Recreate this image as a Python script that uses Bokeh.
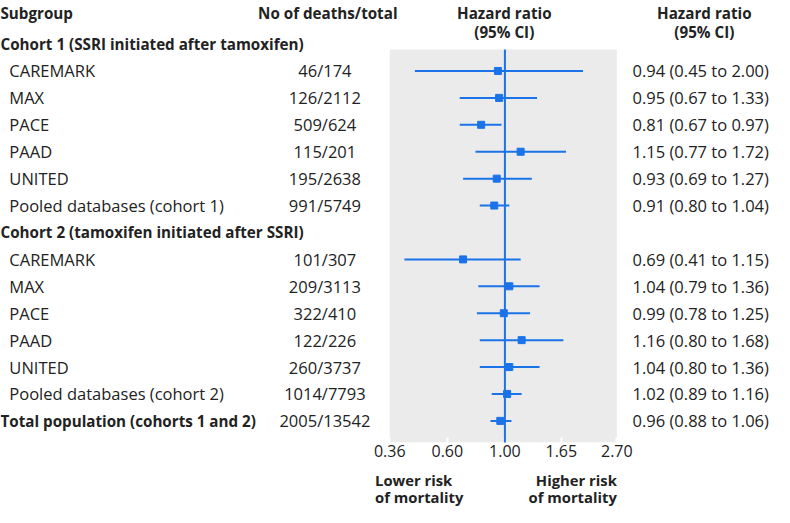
import math
from bokeh.plotting import figure
from bokeh.layouts import column
from bokeh.models import Range1d, LinearScale, FixedTicker, BoxAnnotation, PrintfTickFormatter
from bokeh.core.properties import value
from bokeh.embed import file_html
from bokeh.resources import INLINE

# ---------------- data ----------------
row_labels = [
    "Cohort 1 (SSRI initiated after tamoxifen)",
    "CAREMARK", "MAX", "PACE", "PAAD", "UNITED", "Pooled databases (cohort 1)",
    "Cohort 2 (tamoxifen initiated after SSRI)",
    "CAREMARK", "MAX", "PACE", "PAAD", "UNITED", "Pooled databases (cohort 2)",
    "Total population (cohorts 1 and 2)",
]
bold_rows = [0, 7, 14]
data_rows = [1, 2, 3, 4, 5, 6, 8, 9, 10, 11, 12, 13, 14]
deaths = [46, 126, 509, 115, 195, 991, 101, 209, 322, 122, 260, 1014, 2005]
totals = [174, 2112, 624, 201, 2638, 5749, 307, 3113, 410, 226, 3737, 7793, 13542]
hr = [0.94, 0.95, 0.81, 1.15, 0.93, 0.91, 0.69, 1.04, 0.99, 1.16, 1.04, 1.02, 0.96]
ci_lo = [0.45, 0.67, 0.67, 0.77, 0.69, 0.80, 0.41, 0.79, 0.78, 0.80, 0.80, 0.89, 0.88]
ci_hi = [2.00, 1.33, 0.97, 1.72, 1.27, 1.04, 1.15, 1.36, 1.25, 1.68, 1.36, 1.16, 1.06]
tick_values = [0.36, 0.60, 1.00, 1.65, 2.70]
headers = ["Subgroup", "No of deaths/total", "Hazard ratio", "(95% CI)"]
direction_labels = [("Lower risk", "of mortality"), ("Higher risk", "of mortality")]

# ---------------- layout constants ----------------
W, H = 774, 507
TOP_REF = 0.0
SX, SY = 0.983, 507.0 / 518.0
FONT = "Open Sans"
BLUE = "#1a73e8"
GRAY = "#ebebeb"
TXT = "#222222"
FS = "16.5px"
FSB = "15.2px"

PX0 = 1.0
PX1 = PX0 + W / SX
PANEL_L, PANEL_R = 397.0, 628.0
k = (PANEL_R - PANEL_L) / math.log(tick_values[-1] / tick_values[0])
log_lo = tick_values[0] * math.exp(-(PANEL_L - PX0) / k)
log_hi = tick_values[-1] * math.exp((PX1 - PANEL_R) / k)

ROW0, ROWH = 44.5, 27.5
def row_of(y):
    return (y - ROW0) / ROWH

PANEL_BOTTOM_REF = 452.0
frame_h = round((PANEL_BOTTOM_REF - TOP_REF) * SY)
axis_h = 24
H1 = frame_h + axis_h
H2 = H - H1
y_bottom = row_of(TOP_REF + frame_h / SY)
y_top = row_of(TOP_REF)
panel_top = row_of(50.0)

p = figure(width=W, height=H1, x_axis_type="log",
           x_range=Range1d(log_lo, log_hi), y_range=Range1d(y_bottom, y_top),
           y_axis_location=None, toolbar_location=None, output_backend="svg",
           min_border_left=0, min_border_right=0, min_border_top=0, min_border_bottom=axis_h)
p.extra_x_ranges = {"px": Range1d(PX0, PX1)}
p.extra_x_scales = {"px": LinearScale()}
p.outline_line_color = None
p.xgrid.visible = False
p.ygrid.visible = False
p.background_fill_color = "white"
p.border_fill_color = "white"

# gray panel
p.add_layout(BoxAnnotation(left=tick_values[0], right=tick_values[-1], top=panel_top,
                           fill_color=GRAY, fill_alpha=1.0, line_color=None, level="underlay"))

# CI lines and markers
p.segment(x0=ci_lo, y0=data_rows, x1=ci_hi, y1=data_rows, line_color=BLUE, line_width=2)
p.scatter(x=hr, y=data_rows, marker="square", size=7, fill_color=BLUE, line_color=BLUE)

# reference line at HR = 1
ref = p.segment(x0=[1.0], y0=[panel_top], x1=[1.0], y1=[y_bottom], line_color=BLUE, line_width=2)
ref.level = "overlay"

# axis
ax = p.xaxis[0]
ax.ticker = FixedTicker(ticks=tick_values, minor_ticks=[])
ax.formatter = PrintfTickFormatter(format="%.2f")
ax.axis_line_color = None
ax.major_tick_in = 5
ax.major_tick_out = 0
ax.major_tick_line_color = "white"
ax.major_tick_line_width = 2
ax.major_label_text_font = FONT
ax.major_label_text_font_size = "16px"
ax.major_label_text_color = TXT
ax.major_label_standoff = 2


def txt(fig, xs, ys, texts, align="left", bold=False, size=FS, rng="px"):
    kw = dict(x=xs, y=ys, text=texts, text_font=value(FONT), text_font_size=size,
              text_baseline="middle", text_align=align, text_color=TXT,
              text_font_style="bold" if bold else "normal")
    if rng:
        kw["x_range_name"] = rng
    fig.text(**kw)

# headers
hdr_y = row_of(13.0)
hdr_y2 = row_of(32.5)
txt(p, [1.0], [hdr_y], [headers[0]], bold=True, size=FSB)
txt(p, [263.0], [hdr_y], [headers[1]], bold=True, size=FSB)
txt(p, [513.5, 513.5], [hdr_y, hdr_y2], [headers[2], headers[3]], align="center", bold=True, size=FSB)
txt(p, [717.0, 717.0], [hdr_y, hdr_y2], [headers[2], headers[3]], align="center", bold=True, size=FSB)

# subgroup labels
txt(p, [1.0] * len(bold_rows), bold_rows, [row_labels[i] for i in bold_rows], bold=True, size=FSB)
norm_rows = [i for i in range(len(row_labels)) if i not in bold_rows]
txt(p, [10.0] * len(norm_rows), norm_rows, [row_labels[i] for i in norm_rows])

# deaths / total
txt(p, [331.0] * len(data_rows), data_rows,
    [f"{d}/{t}" for d, t in zip(deaths, totals)], align="center")

# hazard ratio (95% CI) text
txt(p, [644.0] * len(data_rows), data_rows,
    [f"{h:.2f} ({l:.2f} to {u:.2f})" for h, l, u in zip(hr, ci_lo, ci_hi)])

# ---------------- bottom strip with direction labels ----------------
ref_top2 = TOP_REF + H1 / SY
ref_bot2 = TOP_REF + H / SY
p2 = figure(width=W, height=H2, x_range=Range1d(PX0, PX1),
            y_range=Range1d(row_of(ref_bot2), row_of(ref_top2)),
            x_axis_location=None, y_axis_location=None, toolbar_location=None,
            output_backend="svg", min_border_left=0, min_border_right=0,
            min_border_top=0, min_border_bottom=0)
p2.outline_line_color = None
p2.xgrid.visible = False
p2.ygrid.visible = False
p2.background_fill_color = "white"
p2.border_fill_color = "white"

l1, l2 = row_of(490.0), row_of(507.0)
txt(p2, [382.0, 382.0], [l1, l2], list(direction_labels[0]), bold=True, size="14.8px", rng=None)
txt(p2, [628.0, 628.0], [l1, l2], list(direction_labels[1]), align="right", bold=True,
    size="14.8px", rng=None)

layout = column(p, p2, spacing=0)
open("out.html", "w").write(file_html(layout, INLINE))
